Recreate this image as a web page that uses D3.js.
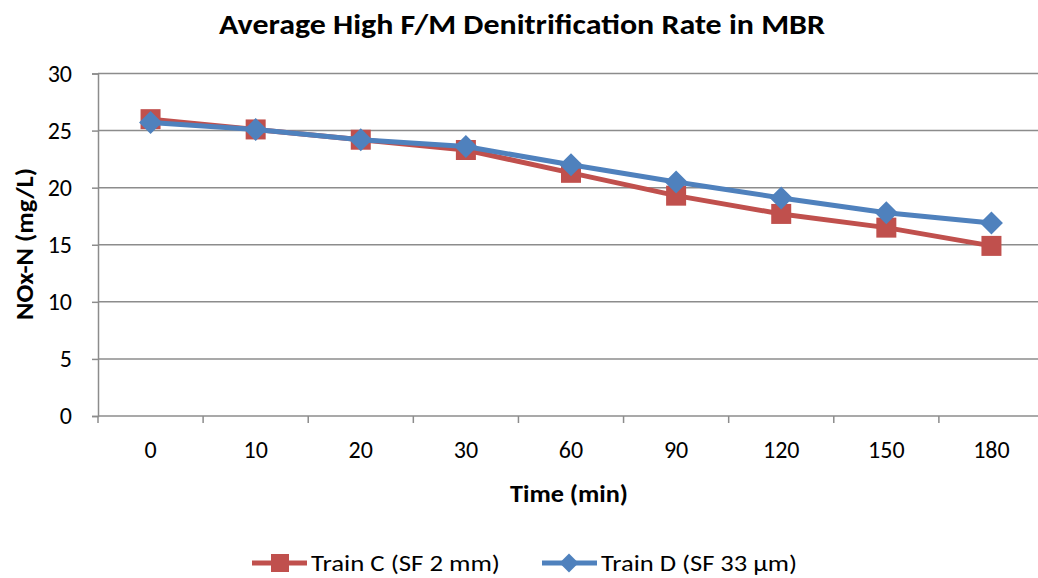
<!DOCTYPE html>
<html>
<head>
<meta charset="utf-8">
<script src="https://cdn.jsdelivr.net/npm/d3@7"></script>
<style>
  html, body { margin: 0; padding: 0; background: #fff; }
  svg { display: block; font-family: Carlito, Lato, "Open Sans", sans-serif; }
</style>
</head>
<body>
<svg id="chart" width="1038" height="578"></svg>
<script>
// Sampling times (minutes) shown as categories on the x axis
const times = ["0", "10", "20", "30", "60", "90", "120", "150", "180"];
// NOx-N concentrations (mg/L)
const trainC = [26.0, 25.1, 24.2, 23.3, 21.3, 19.3, 17.7, 16.5, 14.9];
const trainD = [25.7, 25.1, 24.2, 23.6, 22.0, 20.5, 19.1, 17.8, 16.9];
const yTicks = [0, 5, 10, 15, 20, 25, 30];
const seriesNames = ["Train C (SF 2 mm)", "Train D (SF 33 µm)"];

const svg = d3.select("#chart");
const plotLeft = 98, plotRight = 1044, plotTop = 73.5, plotBottom = 416;

const x = d3.scaleBand().domain(times).range([plotLeft, plotRight]);
const y = d3.scaleLinear().domain([0, 30]).range([plotBottom, plotTop]);

const gridColor = "#8c8c8c";
const tickFont = 24;

// Horizontal gridlines
svg.append("g").selectAll("line").data(yTicks.filter(d => d > 0)).join("line")
  .attr("x1", plotLeft).attr("x2", plotRight)
  .attr("y1", d => y(d)).attr("y2", d => y(d))
  .attr("stroke", gridColor).attr("stroke-width", 1.5);

// Y axis
const yAxis = svg.append("g").attr("transform", `translate(${plotLeft},0)`)
  .call(d3.axisLeft(y).tickValues(yTicks).tickSize(6).tickPadding(20));
yAxis.select(".domain").attr("stroke", gridColor).attr("stroke-width", 1.5);
yAxis.selectAll(".tick line").attr("stroke", gridColor).attr("stroke-width", 1.5);
yAxis.selectAll("text").attr("font-size", tickFont).attr("fill", "#000")
  .style("font-family", "Carlito, Lato, sans-serif");

// X axis with tick marks at category boundaries
const xAxis = svg.append("g").attr("transform", `translate(0,${plotBottom})`)
  .call(d3.axisBottom(x).tickSize(0).tickPadding(25));
xAxis.select(".domain").attr("stroke", gridColor).attr("stroke-width", 1.5)
  .attr("d", `M${plotLeft},0H${plotRight}`);
xAxis.selectAll("text").attr("font-size", tickFont).attr("fill", "#000")
  .style("font-family", "Carlito, Lato, sans-serif");
svg.append("g").selectAll("line").data(d3.range(times.length + 1)).join("line")
  .attr("x1", i => plotLeft + i * x.step()).attr("x2", i => plotLeft + i * x.step())
  .attr("y1", plotBottom).attr("y2", plotBottom + 7)
  .attr("stroke", gridColor).attr("stroke-width", 1.5);

const cx = d => x(d) + x.bandwidth() / 2;
const line = d3.line().x((d, i) => cx(times[i])).y(d => y(d));

const red = "#C0504D", blue = "#4F81BD";

// Train C: red line with square markers
svg.append("path").datum(trainC).attr("d", line)
  .attr("fill", "none").attr("stroke", red).attr("stroke-width", 5).attr("stroke-linejoin", "round");
svg.append("g").selectAll("rect").data(trainC).join("rect")
  .attr("x", (d, i) => cx(times[i]) - 10).attr("y", d => y(d) - 10)
  .attr("width", 20).attr("height", 20).attr("fill", red);

// Train D: blue line with diamond markers
const diamond = s => `M0,${-s}L${s},0L0,${s}L${-s},0Z`;
svg.append("path").datum(trainD).attr("d", line)
  .attr("fill", "none").attr("stroke", blue).attr("stroke-width", 5).attr("stroke-linejoin", "round");
svg.append("g").selectAll("path").data(trainD).join("path")
  .attr("transform", (d, i) => `translate(${cx(times[i])},${y(d)})`)
  .attr("d", diamond(11.5)).attr("fill", blue);

// Title and axis titles
svg.append("text").attr("x", 522).attr("y", 34).attr("text-anchor", "middle")
  .attr("font-size", 29).attr("font-weight", "bold")
  .attr("textLength", 606).attr("lengthAdjust", "spacingAndGlyphs")
  .text("Average High F/M Denitrification Rate in MBR");
svg.append("text").attr("x", 569).attr("y", 502).attr("text-anchor", "middle")
  .attr("font-size", 24).attr("font-weight", "bold")
  .attr("textLength", 118).attr("lengthAdjust", "spacingAndGlyphs")
  .text("Time (min)");
svg.append("text").attr("transform", "translate(33,244) rotate(-90)").attr("text-anchor", "middle")
  .attr("font-size", 24).attr("font-weight", "bold")
  .attr("textLength", 152).attr("lengthAdjust", "spacingAndGlyphs")
  .text("NOx-N (mg/L)");

// Legend
const legend = svg.append("g");
const legY = 563;
legend.append("line").attr("x1", 252).attr("x2", 307).attr("y1", legY).attr("y2", legY)
  .attr("stroke", red).attr("stroke-width", 5);
legend.append("rect").attr("x", 271).attr("y", legY - 9).attr("width", 18).attr("height", 18).attr("fill", red);
legend.append("text").attr("x", 311).attr("y", 571).attr("font-size", 23)
  .attr("textLength", 189).attr("lengthAdjust", "spacingAndGlyphs").text(seriesNames[0]);
legend.append("line").attr("x1", 542).attr("x2", 597).attr("y1", legY).attr("y2", legY)
  .attr("stroke", blue).attr("stroke-width", 5);
legend.append("path").attr("transform", `translate(569,${legY})`).attr("d", diamond(9.5)).attr("fill", blue);
legend.append("text").attr("x", 601).attr("y", 571).attr("font-size", 23)
  .attr("textLength", 196).attr("lengthAdjust", "spacingAndGlyphs").text(seriesNames[1]);
</script>
</body>
</html>
